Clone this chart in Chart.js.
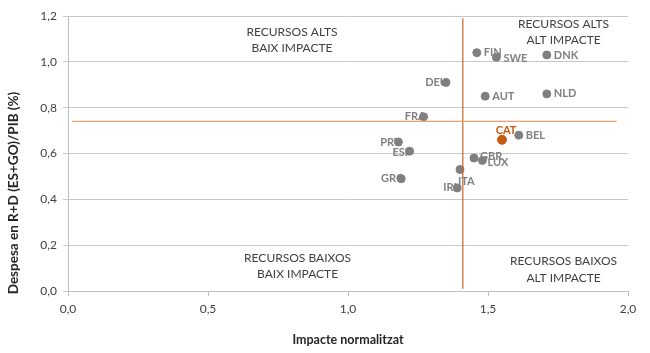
<!DOCTYPE html>
<html>
<head>
<meta charset="utf-8">
<script src="https://cdn.jsdelivr.net/npm/chart.js@4.4.1/dist/chart.umd.min.js"></script>
<style>
  html, body { margin: 0; padding: 0; background: #fff; }
  #wrap { width: 650px; height: 353px; }
</style>
</head>
<body>
<div id="wrap"><canvas id="c"></canvas></div>
<script>
// countries
const countries = ['FIN', 'SWE', 'DNK', 'DEU', 'AUT', 'NLD', 'FRA', 'BEL', 'PRT', 'ESP', 'GBR', 'LUX', 'ITA', 'GRC', 'IRL'];
const impacte = [1.46, 1.53, 1.71, 1.35, 1.49, 1.71, 1.27, 1.61, 1.18, 1.22, 1.45, 1.48, 1.40, 1.19, 1.39];
const despesa = [1.04, 1.02, 1.03, 0.91, 0.85, 0.86, 0.76, 0.68, 0.65, 0.61, 0.58, 0.57, 0.53, 0.49, 0.45];

const catName = 'CAT';
const catImpacte = 1.55;
const catDespesa = 0.66;

// reference (average) lines
const mitjanaDespesa = 0.74;
const mitjanaDespesaRang = [0.015, 1.96];
const mitjanaImpacte = 1.41;
const mitjanaImpacteRang = [0.01, 1.19];

const xTicks = [0, 0.5, 1, 1.5, 2];
const yTicks = [0, 0.2, 0.4, 0.6, 0.8, 1.0, 1.2];

const xTitle = 'Impacte normalitzat';
const yTitle = 'Despesa en R+D (ES+GO)/PIB (%)';

// where each label sits relative to its point
const labelSide = {
  FIN: 'right', SWE: 'belowright', DNK: 'right', DEU: 'left', AUT: 'right', NLD: 'right',
  FRA: 'left', BEL: 'right', PRT: 'left', ESP: 'leftlow', GBR: 'rightup', LUX: 'rightlow',
  ITA: 'below', GRC: 'left', IRL: 'left'
};

const quadrants = [
  { x: 0.80, y: 1.13, lines: ['RECURSOS ALTS', 'BAIX IMPACTE'] },
  { x: 1.77, y: 1.165, lines: ['RECURSOS ALTS', 'ALT IMPACTE'] },
  { x: 0.82, y: 0.145, lines: ['RECURSOS BAIXOS', 'BAIX IMPACTE'] },
  { x: 1.77, y: 0.13, lines: ['RECURSOS BAIXOS', 'ALT IMPACTE'] }
];

const FONT = 'Lato, "Liberation Sans", sans-serif';

const labelPlugin = {
  id: 'labels',
  afterDatasetsDraw(chart) {
    const ctx = chart.ctx;
    const xs = chart.scales.x, ys = chart.scales.y;
    ctx.save();
    ctx.font = 'bold 11px ' + FONT;
    ctx.fillStyle = '#808080';
    countries.forEach((name, i) => {
      const px = xs.getPixelForValue(impacte[i]);
      const py = ys.getPixelForValue(despesa[i]);
      const side = labelSide[name];
      let tx = px, ty = py, align = 'left';
      if (side === 'right') { tx = px + 7; }
      else if (side === 'rightup') { tx = px + 6; ty = py - 2; }
      else if (side === 'rightlow') { tx = px + 5; ty = py + 2; }
      else if (side === 'belowright') { tx = px + 7; ty = py + 1; }
      else if (side === 'left') { tx = px + 2; align = 'right'; }
      else if (side === 'leftlow') { tx = px + 2; ty = py + 1; align = 'right'; }
      else if (side === 'below') { tx = px - 2; ty = py + 12; }
      ctx.textAlign = align;
      ctx.textBaseline = 'middle';
      ctx.fillText(name, tx, ty);
    });
    const cx = xs.getPixelForValue(catImpacte);
    const cy = ys.getPixelForValue(catDespesa);
    ctx.fillStyle = '#C55A11';
    ctx.textAlign = 'center';
    ctx.fillText(catName, cx + 4, cy - 9);

    ctx.font = '12px ' + FONT;
    ctx.fillStyle = '#404040';
    quadrants.forEach(q => {
      const qx = xs.getPixelForValue(q.x);
      const qy = ys.getPixelForValue(q.y);
      q.lines.forEach((t, k) => ctx.fillText(t, qx, qy + k * 16.5));
    });

    // y axis title, Excel places it a bit lower than the plot centre
    ctx.font = 'bold 13.5px ' + FONT;
    ctx.fillStyle = '#262626';
    ctx.translate(14, 193);
    ctx.rotate(-Math.PI / 2);
    ctx.textAlign = 'center';
    ctx.fillText(yTitle, 0, 0);
    ctx.restore();
  }
};

new Chart(document.getElementById('c'), {
  type: 'scatter',
  data: {
    datasets: [
      {
        label: 'Mitjana despesa',
        type: 'line',
        data: mitjanaDespesaRang.map(x => ({ x: x, y: mitjanaDespesa })),
        borderColor: '#F0A06A',
        borderWidth: 1.2,
        pointRadius: 0,
        fill: false
      },
      {
        label: 'Mitjana impacte',
        type: 'line',
        data: mitjanaImpacteRang.map(y => ({ x: mitjanaImpacte, y: y })),
        borderColor: '#C8642A',
        borderWidth: 1.2,
        pointRadius: 0,
        fill: false
      },
      {
        label: 'Països',
        data: countries.map((c, i) => ({ x: impacte[i], y: despesa[i] })),
        backgroundColor: '#7F7F7F',
        borderColor: '#7F7F7F',
        pointRadius: 4,
        pointHoverRadius: 4
      },
      {
        label: catName,
        data: [{ x: catImpacte, y: catDespesa }],
        backgroundColor: '#C55A11',
        borderColor: '#C55A11',
        pointRadius: 4.5,
        pointHoverRadius: 4.5
      }
    ]
  },
  options: {
    responsive: true,
    maintainAspectRatio: false,
    animation: false,
    layout: { padding: { top: 16, right: 22, left: 0, bottom: 0 } },
    plugins: {
      legend: { display: false },
      tooltip: { enabled: false }
    },
    scales: {
      x: {
        type: 'linear',
        min: 0,
        max: 2,
        afterBuildTicks: s => { s.ticks = xTicks.map(v => ({ value: v })); },
        afterFit: s => { s.height = 62; },
        ticks: {
          callback: v => v.toFixed(1).replace('.', ','),
          color: '#404040',
          font: { family: FONT, size: 12 },
          padding: 6,
          maxRotation: 0
        },
        grid: { drawOnChartArea: false, drawTicks: true, tickLength: 5, color: '#BFBFBF' },
        border: { color: '#BFBFBF' },
        title: {
          display: true,
          text: xTitle,
          color: '#262626',
          font: { family: FONT, size: 12.5, weight: 'bold' },
          padding: { top: 0, bottom: 6 }
        }
      },
      y: {
        type: 'linear',
        min: 0,
        max: 1.2,
        afterBuildTicks: s => { s.ticks = yTicks.map(v => ({ value: v })); },
        afterFit: s => { s.width = 68; },
        ticks: {
          callback: v => v.toFixed(1).replace('.', ','),
          color: '#404040',
          font: { family: FONT, size: 12 },
          padding: 6
        },
        grid: { color: '#C8C8C8', tickLength: 5, drawTicks: true },
        border: { color: '#BFBFBF' },
        title: { display: false }
      }
    }
  },
  plugins: [labelPlugin]
});
</script>
</body>
</html>
